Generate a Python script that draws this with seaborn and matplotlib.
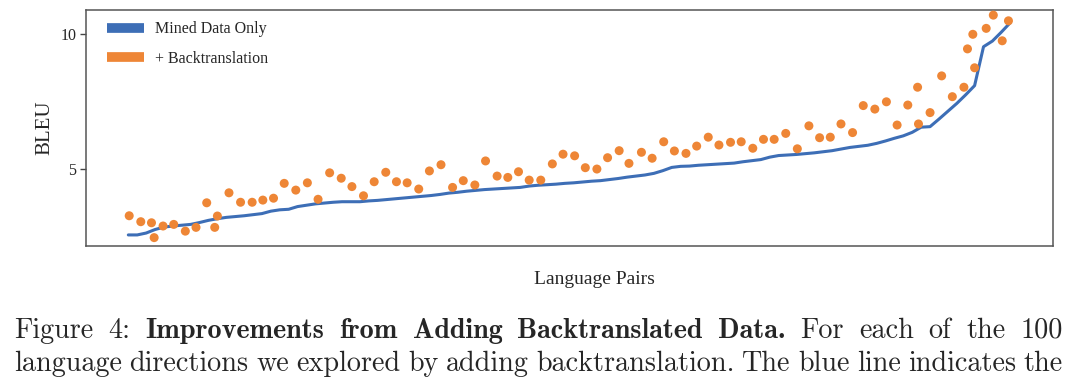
import numpy as np
import pandas as pd
import matplotlib
matplotlib.use("Agg")
import matplotlib.pyplot as plt
from matplotlib.lines import Line2D
import seaborn as sns

# Mined-data-only BLEU, one value per language pair (sorted)
mined_bleu = [
    2.57, 2.57, 2.64, 2.77, 2.86, 2.90, 2.93, 2.96, 3.03, 3.11,
    3.17, 3.22, 3.25, 3.28, 3.32, 3.36, 3.45, 3.50, 3.52, 3.62,
    3.67, 3.72, 3.75, 3.78, 3.80, 3.80, 3.80, 3.83, 3.85, 3.88,
    3.91, 3.94, 3.97, 4.00, 4.03, 4.07, 4.12, 4.15, 4.19, 4.22,
    4.25, 4.27, 4.29, 4.31, 4.33, 4.38, 4.41, 4.43, 4.45, 4.48,
    4.50, 4.53, 4.56, 4.58, 4.62, 4.66, 4.71, 4.75, 4.79, 4.85,
    4.95, 5.07, 5.11, 5.12, 5.15, 5.17, 5.19, 5.21, 5.23, 5.28,
    5.32, 5.36, 5.45, 5.51, 5.53, 5.55, 5.58, 5.61, 5.65, 5.69,
    5.75, 5.81, 5.85, 5.89, 5.96, 6.05, 6.15, 6.24, 6.37, 6.56,
    6.58, 6.86, 7.15, 7.44, 7.76, 8.10, 9.54, 9.75, 10.08, 10.43,
]

# + backtranslation: position along the sorted pairs, BLEU
bt_rank = [
    0.1, 1.4, 2.6, 2.9, 3.9, 5.1, 6.4, 7.6, 8.8, 9.7,
    10.0, 11.3, 12.6, 13.9, 15.1, 16.3, 17.5, 18.8, 20.1, 21.3,
    22.6, 23.9, 25.1, 26.4, 27.6, 28.9, 30.1, 31.3, 32.6, 33.8,
    35.1, 36.4, 37.6, 38.9, 40.1, 41.4, 42.6, 43.8, 45.0, 46.3,
    47.6, 48.8, 50.1, 51.3, 52.6, 53.8, 55.1, 56.2, 57.6, 58.8,
    60.1, 61.3, 62.6, 63.8, 65.1, 66.3, 67.6, 68.8, 70.1, 71.3,
    72.5, 73.8, 75.1, 76.4, 77.6, 78.8, 80.0, 81.3, 82.5, 83.8,
    85.1, 86.3, 87.5, 88.6, 88.7, 90.0, 91.3, 92.5, 93.8, 94.2,
    94.8, 95.0, 96.3, 97.1, 98.1, 98.8,
]
bt_bleu = [
    3.28, 3.06, 3.02, 2.47, 2.90, 2.96, 2.71, 2.85, 3.76, 2.85,
    3.27, 4.13, 3.78, 3.78, 3.86, 3.93, 4.48, 4.23, 4.50, 3.89,
    4.87, 4.67, 4.36, 4.02, 4.54, 4.89, 4.54, 4.50, 4.27, 4.94,
    5.17, 4.33, 4.58, 4.42, 5.31, 4.75, 4.70, 4.91, 4.60, 4.60,
    5.20, 5.56, 5.50, 5.06, 5.01, 5.43, 5.69, 5.22, 5.63, 5.41,
    6.02, 5.68, 5.59, 5.86, 6.19, 5.90, 6.00, 6.02, 5.78, 6.11,
    6.11, 6.33, 5.76, 6.61, 6.17, 6.19, 6.68, 6.36, 7.36, 7.23,
    7.50, 6.64, 7.38, 8.04, 6.68, 7.10, 8.46, 7.69, 8.04, 9.46,
    10.00, 8.76, 10.22, 10.71, 9.76, 10.50,
]

series_labels = ["Mined Data Only", "+ Backtranslation"]
y_ticks = [5, 10]

caption_line1 = [("Figure", "cmr10"), ("4:", "cmr10"),
                 ("Improvements", "cmb10"), ("from", "cmb10"), ("Adding", "cmb10"),
                 ("Backtranslated", "cmb10"), ("Data.", "cmb10"),
                 ("For", "cmr10"), ("each", "cmr10"), ("of", "cmr10"),
                 ("the", "cmr10"), ("100", "cmr10")]
caption_line2 = [(w, "cmr10") for w in
                 "language directions we explored by adding backtranslation. The blue line indicates the".split()]

BLUE = "#3d6eb6"
ORANGE = "#ee8636"

sns.set_style("white")
plt.rcParams["font.family"] = ["Liberation Serif", "DejaVu Serif"]

df_line = pd.DataFrame({"rank": np.arange(len(mined_bleu)), "bleu": mined_bleu})
df_pts = pd.DataFrame({"rank": bt_rank, "bleu": bt_bleu})

W, H = 1080, 382
fig = plt.figure(figsize=(W / 100, H / 100), dpi=100)
ax = fig.add_axes([86 / W, 1 - 246 / H, (1053 - 86) / W, (246 - 10) / H])

sns.lineplot(data=df_line, x="rank", y="bleu", ax=ax, color=BLUE, lw=2.2, zorder=2)
sns.scatterplot(data=df_pts, x="rank", y="bleu", ax=ax, color=ORANGE, s=42,
                edgecolor="none", zorder=3)

ax.set_xlim(-4.75, 103.8)
ax.set_ylim(2.16, 10.9)
ax.set_xticks([])
ax.set_yticks(y_ticks)
ax.tick_params(axis="y", direction="out", length=4, width=1, color="#444444",
               labelsize=11.5, pad=3, left=True)
for sp in ax.spines.values():
    sp.set_color("#555555")
    sp.set_linewidth(1.1)
ax.set_xlabel("Language Pairs", fontsize=14)
ax.xaxis.set_label_coords(0.526, -0.105)
ax.set_ylabel("BLEU", fontsize=15, labelpad=4)

handles = [Line2D([], [], color=BLUE, lw=7, solid_capstyle="butt"),
           Line2D([], [], color=ORANGE, lw=7, solid_capstyle="butt")]
ax.legend(handles, series_labels, loc="upper left", frameon=False, fontsize=11.5,
          handlelength=2.3, handletextpad=0.7, labelspacing=0.85, borderaxespad=0.3,
          bbox_to_anchor=(0.01, 1.0))

# caption, justified across the width like the paper
renderer = fig.canvas.get_renderer()


def justified(words, base_px, x0=14, x1=1063, size=20.3):
    texts = []
    widths = []
    for w, fam in words:
        t = fig.text(0, 1 - base_px / H, w, fontsize=size, family=fam, va="baseline")
        texts.append(t)
        widths.append(t.get_window_extent(renderer).width)
    gap = (x1 - x0 - sum(widths)) / (len(words) - 1)
    x = x0
    for t, wd in zip(texts, widths):
        t.set_x(x / W)
        x += wd + gap


justified(caption_line1, 338)
justified(caption_line2, 371)

fig.savefig("out.png", dpi=100)
